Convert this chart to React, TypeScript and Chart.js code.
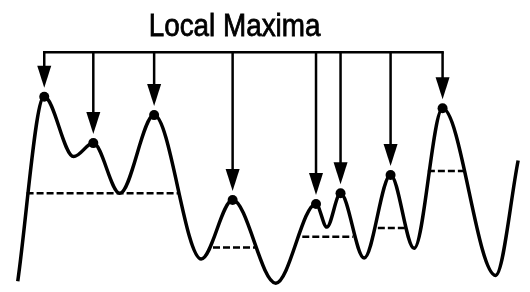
import React, { useEffect, useRef } from "react";
import { Chart, registerables } from "chart.js";

Chart.register(...registerables);

// Curve key points (x position, height)
const curveX = [13, 40, 70, 90, 117, 152, 200, 232, 276, 317, 328, 342, 366, 393, 417, 446, 500, 523];
const curveY = [6, 197, 135, 149, 97, 178, 29, 90, 4, 86, 62, 97, 30, 116, 40, 185, 12, 131];
// indices of local maxima within the curve
const maximaIdx = [1, 3, 5, 7, 9, 11, 13, 15];
// dashed levels
const dashLevels = [97, 41, 52, 61, 120];
const dashStart = [22, 212, 303, 380, 431];
const dashEnd = [177, 255, 355, 408, 470];
const bracketLevel = 243;
const titleText = "Local Maxima";
const titleX = 234;
const titleLevel = 260;

export default function App() {
  const ref = useRef<HTMLCanvasElement | null>(null);
  useEffect(() => {
    document.body.style.margin = "0";
    const canvas = ref.current;
    if (!canvas) return;
    const curve = curveX.map((x, i) => ({ x, y: curveY[i] }));
    const maxima = maximaIdx.map((i) => ({ x: curveX[i], y: curveY[i] }));
    const dashSets = dashLevels.map((lv, i) => ({
      data: [
        { x: dashStart[i], y: lv },
        { x: dashEnd[i], y: lv },
      ],
      borderColor: "#000",
      borderWidth: 2.5,
      borderDash: [7, 3],
      pointRadius: 0,
      tension: 0,
    }));

    const arrowPlugin = {
      id: "arrows",
      afterDatasetsDraw(chart: any) {
        const ctx = chart.ctx;
        const xs = chart.scales.x;
        const ys = chart.scales.y;
        const by = ys.getPixelForValue(bracketLevel);
        ctx.save();
        ctx.strokeStyle = "#000";
        ctx.fillStyle = "#000";
        ctx.lineWidth = 2.5;
        ctx.lineCap = "butt";
        // bracket
        ctx.beginPath();
        ctx.moveTo(xs.getPixelForValue(maxima[0].x) - 1.25, by);
        ctx.lineTo(xs.getPixelForValue(maxima[maxima.length - 1].x) + 1.25, by);
        ctx.stroke();
        maxima.forEach((m) => {
          const px = xs.getPixelForValue(m.x);
          const tip = ys.getPixelForValue(m.y) - 9;
          const headH = 22;
          const headW = 7;
          ctx.beginPath();
          ctx.moveTo(px, by);
          ctx.lineTo(px, tip - headH + 2);
          ctx.stroke();
          ctx.beginPath();
          ctx.moveTo(px - headW, tip - headH);
          ctx.lineTo(px + headW, tip - headH);
          ctx.lineTo(px, tip);
          ctx.closePath();
          ctx.fill();
        });
        // title
        const tx = xs.getPixelForValue(titleX);
        const ty = ys.getPixelForValue(titleLevel);
        ctx.translate(tx, ty);
        ctx.scale(0.87, 1);
        ctx.font = '32px "Liberation Sans", Arial, sans-serif';
        ctx.textAlign = "center";
        ctx.textBaseline = "alphabetic";
        ctx.lineWidth = 0.8;
        ctx.fillText(titleText, 0, 0);
        ctx.strokeText(titleText, 0, 0);
        ctx.restore();
      },
    };

    const chart = new Chart(canvas, {
      type: "line",
      data: {
        datasets: [
          {
            data: curve,
            borderColor: "#000",
            borderWidth: 3.5,
            pointRadius: 0,
            cubicInterpolationMode: "monotone",
            fill: false,
          },
          ...dashSets,
          {
            data: maxima,
            showLine: false,
            pointRadius: 5,
            pointBackgroundColor: "#000",
            pointBorderColor: "#000",
            pointBorderWidth: 0,
          },
        ] as any,
      },
      options: {
        animation: false,
        responsive: true,
        maintainAspectRatio: false,
        layout: { padding: 0 },
        plugins: { legend: { display: false }, tooltip: { enabled: false }, title: { display: false } },
        events: [],
        scales: {
          x: { type: "linear", min: 0, max: 530, display: false },
          y: { type: "linear", min: 0, max: 292, display: false },
        },
      },
      plugins: [arrowPlugin],
    } as any);
    return () => chart.destroy();
  }, []);
  return (
    <div style={{ position: "fixed", left: 0, top: 0, width: 530, height: 292, background: "#fff" }}>
      <canvas ref={ref} />
    </div>
  );
}
